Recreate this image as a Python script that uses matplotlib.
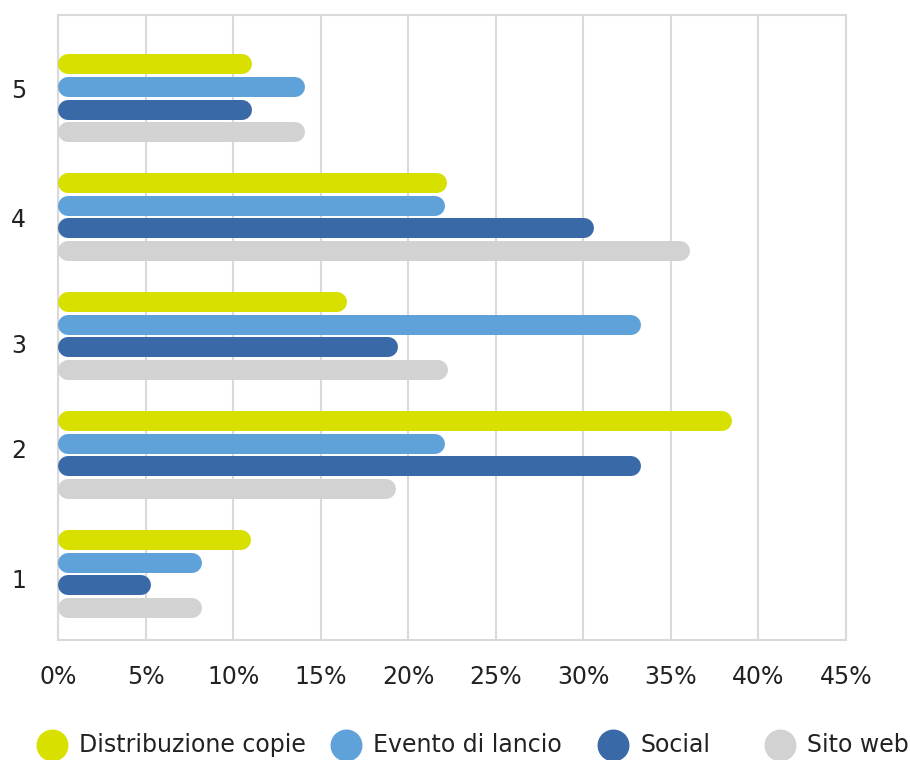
import numpy as np
import matplotlib.pyplot as plt
from matplotlib.lines import Line2D

plt.rcParams['font.family'] = ['DejaVu Sans']

groups = ['1', '2', '3', '4', '5']
series = ['Distribuzione copie', 'Evento di lancio', 'Social', 'Sito web']
colors = ['#d8e000', '#5fa2da', '#3a69a7', '#d2d2d2']
distribuzione = [11.0, 38.5, 16.5, 22.2, 11.1]
evento = [8.2, 22.1, 33.3, 22.1, 14.1]
social = [5.3, 33.3, 19.4, 30.6, 11.1]
sito = [8.2, 19.3, 22.3, 36.1, 14.1]
values = [distribuzione, evento, social, sito]
xticks = np.arange(0, 46, 5)

W, H = 910, 760
fig = plt.figure(figsize=(W / 100, H / 100), dpi=100)
ax = fig.add_axes([58/W, 120/H, 788/W, 625/H])
ax.set_xlim(0, 45)
ax.set_ylim(0.445, 5.70)

# bar geometry
bar_h_px = 20
step = 0.19
px_per_unit = 788 / 45
r = (bar_h_px / 2) / px_per_unit
lw = bar_h_px * 72 / 100

y = np.arange(1, len(groups) + 1)
for k, (vals, c) in enumerate(zip(values, colors)):
    off = (1.5 - k) * step
    for yi, v in zip(y, vals):
        ax.plot([r, v - r], [yi + off, yi + off], color=c, lw=lw,
                solid_capstyle='round', zorder=3)

# the original's group labels sit a little off the group centres
label_shift = [-0.034, 0.059, -0.06, 0.0, 0.084]

ax.set_xticks(xticks)
ax.set_xticklabels([f'{t}%' for t in xticks])
ax.set_yticks(y + np.array(label_shift))
ax.set_yticklabels(groups)
ax.grid(axis='x', color='#d9d9d9', lw=1.5, zorder=0)
for s in ax.spines.values():
    s.set_color('#d9d9d9')
    s.set_linewidth(1.5)
ax.tick_params(length=0, labelsize=17, colors='#222222')
ax.tick_params(axis='x', pad=18)
ax.tick_params(axis='y', pad=23)

# legend: circle + label, placed along the bottom
leg_x = [52, 346, 613, 780]
leg_y = 15 / H
for x, c, name in zip(leg_x, colors, series):
    fig.add_artist(Line2D([x / W], [leg_y], marker='o', ls='', markersize=22,
                          color=c, transform=fig.transFigure))
    fig.text((x + 27) / W, leg_y, name, fontsize=17, color='#222222',
             va='center', ha='left')

fig.savefig('out.png', dpi=100)
